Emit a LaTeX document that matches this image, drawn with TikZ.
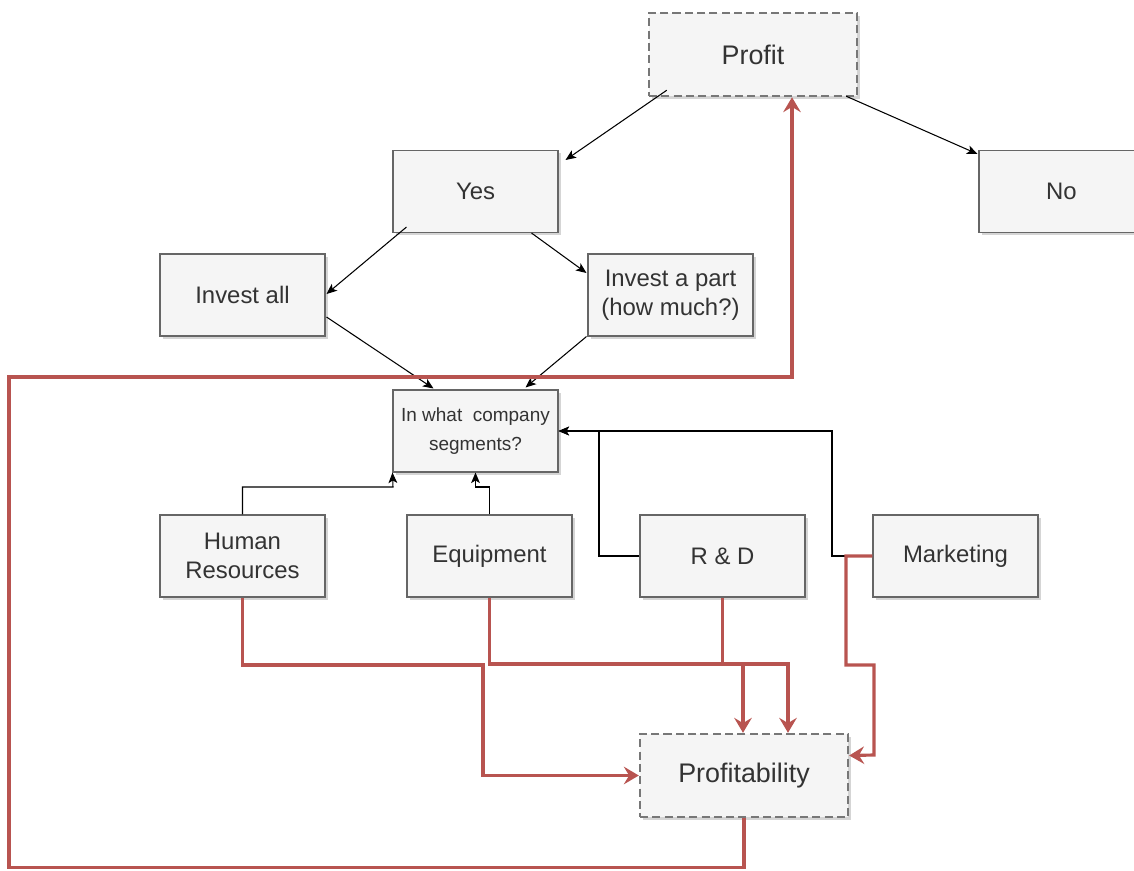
\documentclass[tikz,border=0pt]{standalone}
\usepackage{fontspec}
\setmainfont{Liberation Sans}
\usepackage{xcolor}
\usepackage{tikz}
\usetikzlibrary{arrows.meta,calc,shadows}
\definecolor{boxfill}{HTML}{F5F5F5}
\definecolor{boxline}{HTML}{666666}
\definecolor{dashline}{HTML}{777777}
\definecolor{textgray}{HTML}{333333}
\definecolor{linkred}{HTML}{B85450}

\begin{document}
\begin{tikzpicture}[x=0.02cm, y=-0.02cm,
    box/.style={draw=boxline, fill=boxfill, text=textgray, line width=0.6pt,
        minimum width=3.3cm, minimum height=1.64cm, inner sep=2pt, align=center,
        font=\fontsize{13.6}{16.4}\selectfont,
        drop shadow={shadow xshift=1.6pt, shadow yshift=-1.6pt, opacity=0.3, fill=black!55}},
    goalbox/.style={box, draw=dashline, line width=1.4pt, dash pattern=on 4.6pt off 2.4pt,
        minimum width=4.16cm, minimum height=1.66cm, font=\fontsize{15.3}{18}\selectfont},
    flow/.style={draw=black, line width=0.6pt, -{Stealth[length=6pt, width=5pt, inset=1.5pt]}},
    link/.style={draw=linkred, line width=1.8pt, -{Stealth[length=8.5pt, width=10pt, inset=3pt]}},
    linkline/.style={draw=linkred, line width=1.8pt}]
    \useasboundingbox (0,0) rectangle (1134,870);

    % boxes
    \node[goalbox] (profit) at (753,54.5) {Profit};
    \node[box] (yes) at (475.5,191.5) {Yes};
    \node[box] (no) at (1061.5,191.5) {No};
    \node[box] (investall) at (242.5,295) {Invest all};
    \node[box] (investpart) at (670.5,295) {Invest a part\\(how much?)};
    \node[box, font=\fontsize{10.8}{16.4}\selectfont] (segments) at (475.5,431) {In what\ \ company\\segments?};
    \node[box] (hr) at (242.5,556) {Human\\Resources};
    \node[box] (equipment) at (489.5,556) {Equipment};
    \node[box] (rd) at (722.5,556) {R \& D};
    \node[box] (marketing) at (955.5,556) {Marketing};
    \node[goalbox] (profitability) at (744,775.5) {Profitability};

    % decision arrows
    \draw[flow] ($(profit.south west)+(19,-7)$) -- ($(yes.north east)+(7,10)$);
    \draw[flow] ($(profit.south east)+(-12,-1)$) -- ($(no.north west)+(-1,4)$);
    \draw[flow] ($(yes.south west)+(14,-6)$) -- ($(investall.east)+(1,-1)$);
    \draw[flow] ($(yes.south east)+(-27,0)$) -- ($(investpart.west)+(-1,-22)$);
    \draw[flow] ($(investall.east)+(1,22)$) -- ($(segments.north)+(-42,-1)$);
    \draw[flow] ($(investpart.south west)+(-1,0)$) -- ($(segments.north)+(50,-2)$);

    % segments
    \draw[flow] (hr.north) |- (393,487) -- (segments.south west);
    \draw[flow] (equipment.north) |- (475.5,487) -- (segments.south);
    \draw[flow] (rd.west) -| (599,431) -- (segments.east);
    \draw[flow] (marketing.west) -| (832,431) -- (segments.east);

    % profitability
    \draw[link] (hr.south) |- (483,665) |- (profitability.west);
    \draw[linkline] (equipment.south) |- (743,664);
    \draw[link] (equipment.south) |- (788,664) -- ($(profitability.north)+(44,0)$);
    \draw[link] (rd.south) |- (743,664) -- ($(profitability.north)+(-1,0)$);
    \draw[link] (marketing.west) -| (846,665) -| (874,755) -- ($(profitability.east)+(0,-20)$);
    \draw[link] (profitability.south) -- ++(0,49) -| (9,377) -| ($(profit.south)+(39,0)$);
\end{tikzpicture}
\end{document}
